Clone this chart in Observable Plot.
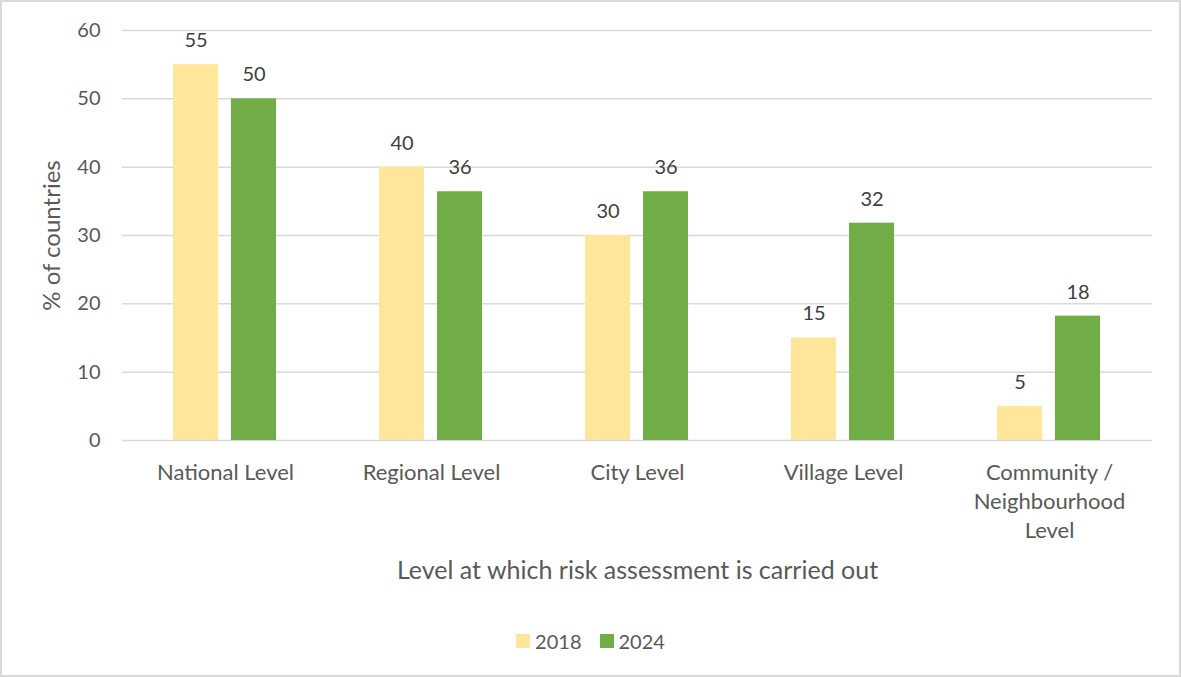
<!DOCTYPE html>
<html>
<head>
<meta charset="utf-8">
<script src="https://cdn.jsdelivr.net/npm/d3@7"></script>
<script src="https://cdn.jsdelivr.net/npm/@observablehq/plot@0.6"></script>
<style>
  html, body { margin: 0; padding: 0; background: #fff; }
  #wrap { position: relative; width: 1181px; height: 677px; overflow: hidden; font-family: Lato, "Open Sans", sans-serif; }
  #frame { position: absolute; left: 0; top: 0; width: 1181px; height: 677px; box-sizing: border-box; border: 2px solid #d9d9d9; pointer-events: none; }
  #legend { position: absolute; left: 0; top: 629px; width: 1181px; display: flex; justify-content: center; align-items: center; gap: 18px; font-size: 20px; color: #595959; }
  .item { display: flex; align-items: center; gap: 5px; }
  .sw { width: 14px; height: 14px; display: inline-block; }
</style>
</head>
<body>
<div id="wrap"><div id="chart"></div><div id="legend"></div><div id="frame"></div></div>
<script>
const categories = ["National Level", "Regional Level", "City Level", "Village Level", "Community / Neighbourhood Level"];
const categoryLabels = ["National Level", "Regional Level", "City Level", "Village Level", "Community /\nNeighbourhood\nLevel"];
const years = ["2018", "2024"];
const values2018 = [55, 40, 30, 15, 5];
const values2024 = [50, 36.4, 36.4, 31.8, 18.2];
const yTicks = [0, 10, 20, 30, 40, 50, 60];
const colors = ["#FFE699", "#70AD47"];
const yLabel = "% of countries";
const xLabel = "Level at which risk assessment is carried out";

const rows = [];
categories.forEach((c, i) => {
  rows.push({category: c, year: "2018", value: values2018[i]});
  rows.push({category: c, year: "2024", value: values2024[i]});
});
const catRows = categories.map((c, i) => ({category: c, label: categoryLabels[i]}));

const textColor = "#595959";
const chart = Plot.plot({
  width: 1181,
  height: 600,
  marginLeft: 122,
  marginRight: 29,
  marginTop: 30,
  marginBottom: 160,
  style: {fontFamily: "Lato, 'Open Sans', sans-serif", color: textColor, background: "transparent"},
  fx: {domain: categories, padding: 0, label: null, axis: null},
  x: {domain: years, paddingInner: 0.22, paddingOuter: 0.856, axis: null},
  y: {domain: [0, 60], ticks: yTicks, label: null},
  color: {domain: years, range: colors},
  marks: [
    Plot.gridY(yTicks, {stroke: "#d9d9d9", strokeOpacity: 1, strokeWidth: 1.5}),
    Plot.axisY(yTicks, {tickSize: 0, tickPadding: 22, fontSize: 20, fill: textColor, label: null}),
    Plot.barY(rows, {fx: "category", x: "year", y: "value", fill: "year"}),
    Plot.text(rows, {fx: "category", x: "year", y: "value", text: d => String(Math.round(d.value)), dy: -24, fontSize: 20, fill: "#404040"}),
    Plot.text(catRows, {fx: "category", text: "label", frameAnchor: "bottom", lineAnchor: "top", dy: 19, lineHeight: 1.32, fontSize: 22, fill: textColor}),
    Plot.text([xLabel], {fx: [categories[2]], text: d => d, frameAnchor: "bottom", dy: 138, fontSize: 25, fill: textColor}),
    Plot.text([yLabel], {fx: [categories[0]], text: d => d, frameAnchor: "left", textAnchor: "middle", dx: -70, rotate: -90, fontSize: 24, fill: textColor})
  ]
});
document.getElementById("chart").appendChild(chart);

const legend = document.getElementById("legend");
years.forEach((y, i) => {
  const item = document.createElement("span");
  item.className = "item";
  const sw = document.createElement("span");
  sw.className = "sw";
  sw.style.background = colors[i];
  const t = document.createElement("span");
  t.textContent = y;
  item.appendChild(sw);
  item.appendChild(t);
  legend.appendChild(item);
});
</script>
</body>
</html>
